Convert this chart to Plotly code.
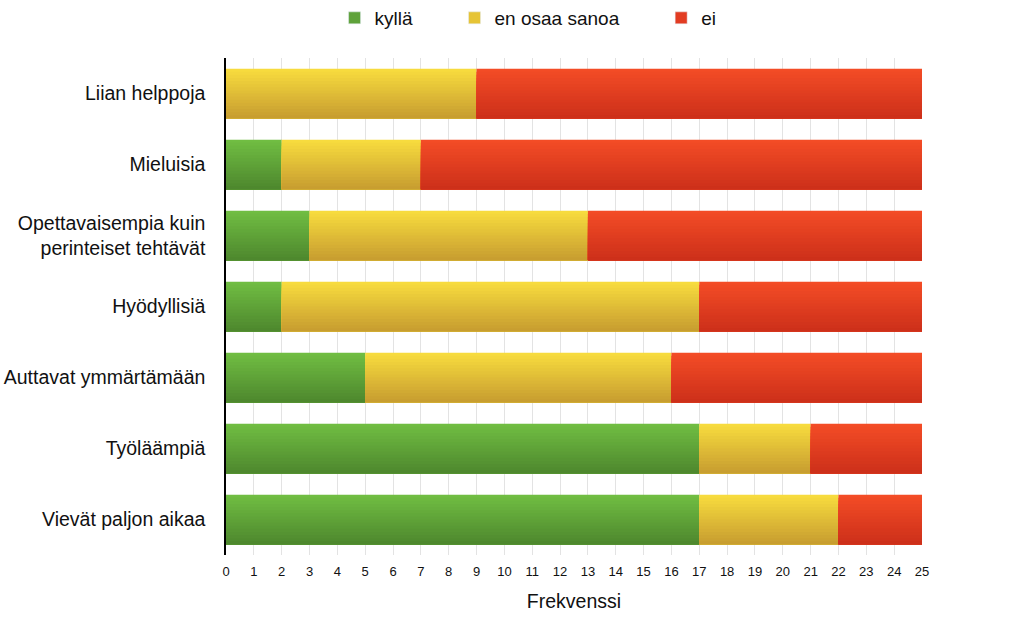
import plotly.graph_objects as go

categories = ["Liian helppoja", "Mieluisia", "Opettavaisempia kuin<br>perinteiset tehtävät",
              "Hyödyllisiä", "Auttavat ymmärtämään", "Työläämpiä", "Vievät paljon aikaa"]
kylla = [0, 2, 3, 2, 5, 17, 17]
eos = [9, 5, 10, 15, 11, 4, 5]
ei = [16, 18, 12, 8, 9, 4, 3]
series_names = ["kyllä", "en osaa sanoa", "ei"]
x_ticks = list(range(0, 26))

# gradient colours: (top, bottom)
grads = [((112, 189, 66), (78, 136, 46)),
         ((247, 219, 62), (200, 158, 48)),
         ((243, 76, 38), (205, 48, 26))]
legend_cols = ["#5fa23a", "#e6c436", "#e23c22"]
legend_pad = ["\u00a0" * 7, "\u00a0" * 7, ""]

positions = list(range(len(categories)))
series = [kylla, eos, ei]
bases = []
cum = [0] * len(categories)
for s in series:
    bases.append(list(cum))
    cum = [c + v for c, v in zip(cum, s)]

fig = go.Figure()
N = 16
bw = 0.7
for i, (name, vals) in enumerate(zip(series_names, series)):
    top, bot = grads[i]
    for k in range(N):
        t = k / (N - 1)
        col = "rgb(%d,%d,%d)" % tuple(round(top[j] + (bot[j] - top[j]) * t) for j in range(3))
        off = -bw / 2 + k * bw / N
        fig.add_trace(go.Bar(
            y=positions, x=vals, base=bases[i], orientation="h",
            width=bw / 2 - off, offset=off,
            marker=dict(color=col, line=dict(width=0)),
            showlegend=False, legendgroup=name, hoverinfo="skip"))
    # legend entry
    fig.add_trace(go.Bar(y=[None], x=[None], orientation="h", name=name + legend_pad[i],
                         marker=dict(color=legend_cols[i]), legendgroup=name,
                         showlegend=True))

font = "Liberation Sans, Arial, sans-serif"
W, H = 1024, 620
fig.update_layout(
    width=W, height=H,
    margin=dict(l=226, r=102, t=58, b=62),
    barmode="overlay",
    plot_bgcolor="white", paper_bgcolor="white",
    font=dict(family=font, color="#111111"),
    legend=dict(orientation="h", x=0.434, xanchor="center", y=1 - 18 / H, yanchor="middle",
                yref="container", font=dict(size=19, family=font),
                traceorder="normal"),
    xaxis=dict(range=[0, 25], tickvals=x_ticks, ticktext=[str(v) for v in x_ticks],
               showgrid=True, gridcolor="#e3e3e3", gridwidth=1, zeroline=False,
               tickfont=dict(size=13), ticks="outside", ticklen=4,
               tickcolor="rgba(0,0,0,0)", showline=False,
               title=dict(text="Frekvenssi", font=dict(size=19.5), standoff=16)),
    yaxis=dict(tickvals=positions, ticktext=categories, range=[6.5, -0.5],
               showgrid=False, zeroline=False, showline=True, linecolor="black",
               linewidth=1.5, ticks="", tickfont=dict(size=19.5), ticklabelstandoff=15,
               automargin=False),
)
fig.write_html("out.html", config={"displayModeBar": False},
               post_script="document.body.style.margin='0';document.body.style.padding='0';")
